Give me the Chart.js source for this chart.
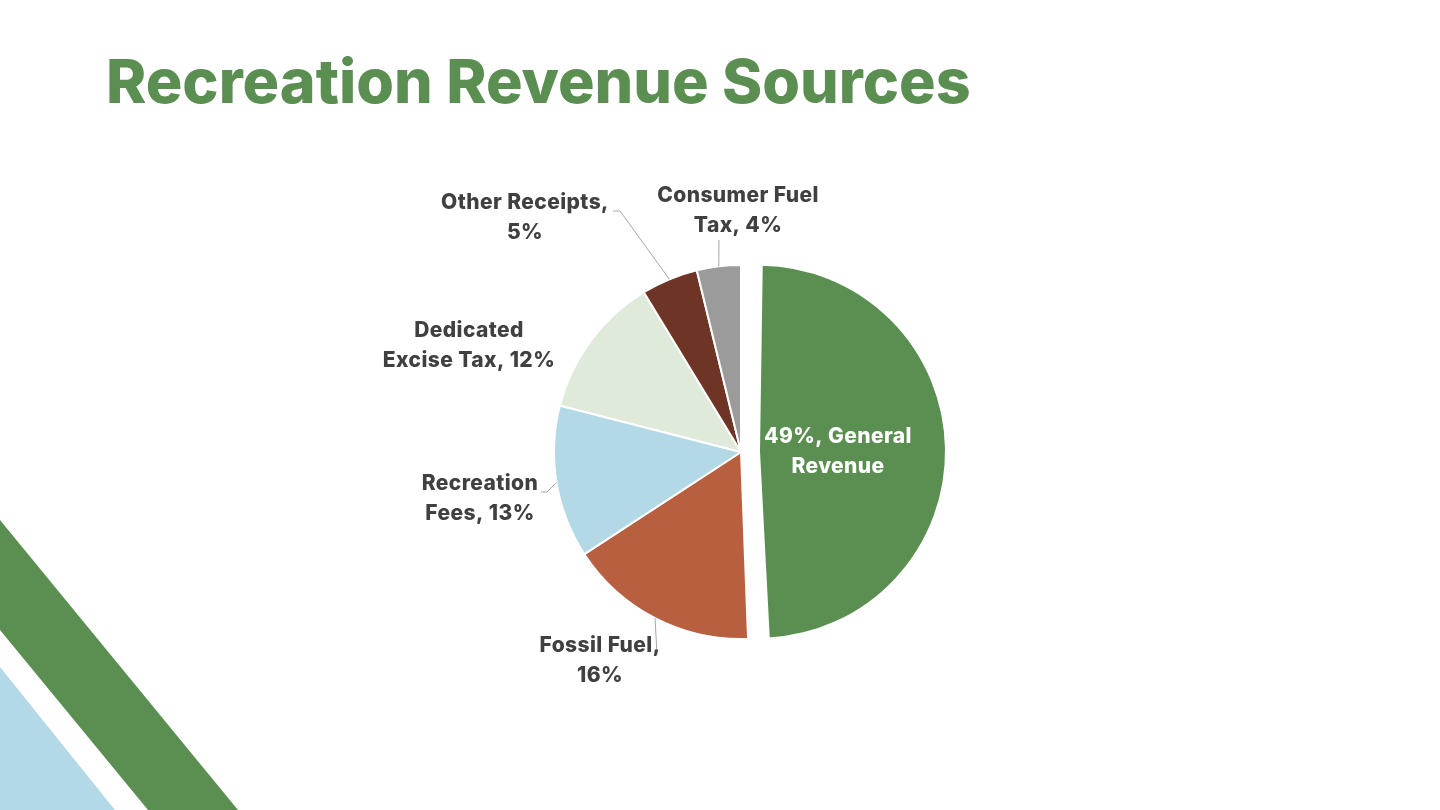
<!DOCTYPE html>
<html>
<head>
<meta charset="utf-8">
<script src="https://cdn.jsdelivr.net/npm/chart.js@4.4.1/dist/chart.umd.min.js"></script>
<style>
  html, body { margin: 0; padding: 0; background: #fff; }
  #page { position: relative; width: 1440px; height: 810px; overflow: hidden; background: #fff; }
  h1 {
    position: absolute; left: 106px; top: 45px; margin: 0;
    font-family: Inter, "Noto Sans", sans-serif; font-weight: 800; font-size: 61px;
    color: #5B8F52; letter-spacing: 0; white-space: nowrap; line-height: 1.2;
  }
  #deco { position: absolute; left: 0; top: 0; }
  #chartBox { position: absolute; left: 0; top: 0; width: 1440px; height: 810px; }
</style>
</head>
<body>
<div id="page">
  <svg id="deco" width="1440" height="810">
    <polygon points="0,520 238,810 148,810 0,630" fill="#5B8F52"/>
    <polygon points="0,667 115,810 0,810" fill="#B4D9E6"/>
  </svg>
  <h1>Recreation Revenue Sources</h1>
  <div id="chartBox"><canvas id="pie"></canvas></div>
</div>
<script>
// Datos del gráfico
const categories = ['General Revenue', 'Fossil Fuel', 'Recreation Fees', 'Dedicated Excise Tax', 'Other Receipts', 'Consumer Fuel Tax'];
const shares = [49.4, 16.4, 13.2, 12.3, 4.9, 3.8];
const sliceColors = ['#5B8F52', '#B85F40', '#B4D9E6', '#DFEADB', '#6E3526', '#9B9B9B'];

// Colocación de etiquetas (px respecto al centro del pastel)
const labelPlacement = [
    { dx: 97, dy: 0, breakAt: 2, color: '#FFFFFF', pctFirst: true, leader: null },
    { dx: -141, dy: 209, breakAt: 2, color: '#404040', leader: [[-84, 203]] },
    { dx: -261, dy: 47, breakAt: 1, color: '#404040', leader: [[-194, 40], [-200, 40]] },
    { dx: -272, dy: -106, breakAt: 1, color: '#404040', leader: null },
    { dx: -216, dy: -234, breakAt: 2, color: '#404040', leader: [[-121, -241], [-128, -241]] },
    { dx: -3, dy: -241, breakAt: 2, color: '#404040', leader: [[-22, -212]] }
];

function labelLines(i) {
    const pct = Math.round(shares[i]) + '%';
    const text = labelPlacement[i].pctFirst ? `${pct}, ${categories[i]}` : `${categories[i]}, ${pct}`;
    const words = text.split(' ');
    const n = labelPlacement[i].breakAt;
    return [words.slice(0, n).join(' '), words.slice(n).join(' ')];
}

// Chart.js agranda el radio de la porción desplazada; lo compensamos al dibujar
function radiusGrowth(arc) {
    const off = (arc.options.offset || 0) / 4;
    return off * (1 - Math.sin(Math.min(Math.PI, arc.circumference || 0)));
}

const keepRadius = {
    id: 'keepRadius',
    beforeDatasetDraw(chart) {
        chart.getDatasetMeta(0).data.forEach(arc => {
            arc._grow = radiusGrowth(arc);
            arc.outerRadius -= arc._grow;
        });
    },
    afterDatasetDraw(chart) {
        chart.getDatasetMeta(0).data.forEach(arc => {
            arc.outerRadius += arc._grow || 0;
            arc._grow = 0;
        });
    }
};

const sliceLabels = {
    id: 'sliceLabels',
    afterDatasetsDraw(chart) {
        const ctx = chart.ctx;
        const meta = chart.getDatasetMeta(0);
        ctx.save();
        meta.data.forEach((arc, i) => {
            const p = labelPlacement[i];
            const { x, y, startAngle, endAngle, outerRadius } = arc.getProps(['x', 'y', 'startAngle', 'endAngle', 'outerRadius'], true);
            const mid = (startAngle + endAngle) / 2;

            // Línea guía
            if (p.leader) {
                ctx.beginPath();
                ctx.strokeStyle = '#A6A6A6';
                ctx.lineWidth = 1;
                ctx.moveTo(x + Math.cos(mid) * outerRadius, y + Math.sin(mid) * outerRadius);
                p.leader.forEach(pt => ctx.lineTo(x + pt[0], y + pt[1]));
                ctx.stroke();
            }

            // Texto
            ctx.font = '800 21px Inter, "Noto Sans", sans-serif';
            ctx.letterSpacing = '0.4px';
            ctx.fillStyle = p.color;
            ctx.textAlign = 'center';
            ctx.textBaseline = 'middle';
            const lines = labelLines(i);
            lines.forEach((line, k) => {
                ctx.fillText(line, x + p.dx, y + p.dy + (k - (lines.length - 1) / 2) * 30);
            });
        });
        ctx.restore();
    }
};

new Chart(document.getElementById('pie'), {
    type: 'pie',
    data: {
        labels: categories,
        datasets: [{
            data: shares,
            backgroundColor: sliceColors,
            borderColor: '#FFFFFF',
            borderWidth: 2,
            offset: [72, 0, 0, 0, 0, 0],
            hoverOffset: 0
        }]
    },
    options: {
        responsive: true,
        maintainAspectRatio: false,
        animation: false,
        radius: 187,
        layout: { padding: { left: 342, right: 300, top: 194, bottom: 100 } },
        plugins: {
            legend: { display: false },
            tooltip: { enabled: false }
        }
    },
    plugins: [keepRadius, sliceLabels]
});
</script>
</body>
</html>
